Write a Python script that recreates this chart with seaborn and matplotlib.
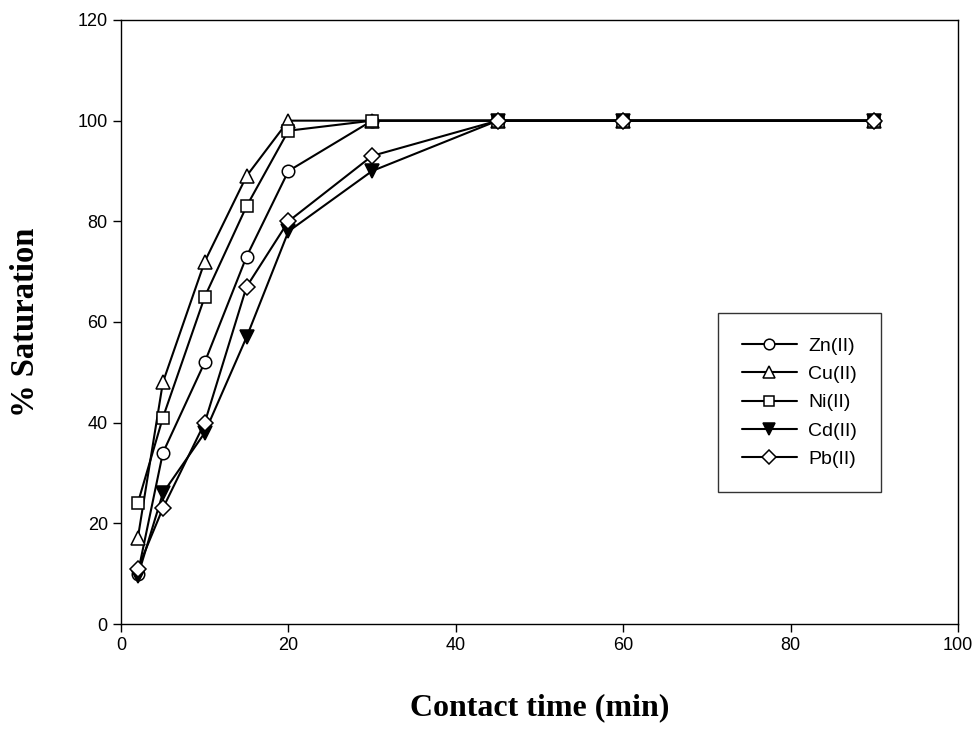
import pandas as pd
import matplotlib.pyplot as plt
import seaborn as sns

# Data
time = [2, 5, 10, 15, 20, 30, 45, 60, 90]
zn = [10, 34, 52, 73, 90, 100, 100, 100, 100]
cu = [17, 48, 72, 89, 100, 100, 100, 100, 100]
ni = [24, 41, 65, 83, 98, 100, 100, 100, 100]
cd = [9.5, 26, 38, 57, 78, 90, 100, 100, 100]
pb = [11, 23, 40, 67, 80, 93, 100, 100, 100]

metals = ["Zn(II)", "Cu(II)", "Ni(II)", "Cd(II)", "Pb(II)"]
series = [zn, cu, ni, cd, pb]
markers = ["o", "^", "s", "v", "D"]
faces = ["white", "white", "white", "black", "white"]
sizes = [9, 10, 9, 10, 8]

rows = []
for m, vals in zip(metals, series):
    for t, v in zip(time, vals):
        rows.append({"time": t, "sat": v, "metal": m})
df = pd.DataFrame(rows)

sns.set_style("ticks")
plt.rcParams["font.family"] = ["Liberation Sans", "DejaVu Sans"]
plt.rcParams["text.color"] = "black"
plt.rcParams["axes.labelcolor"] = "black"

fig = plt.figure(figsize=(9.8, 7.29), dpi=100)
ax = fig.add_axes([0.1235, 0.144, 0.8541, 0.8286])

for m, mk, fc, ms in zip(metals, markers, faces, sizes):
    sns.lineplot(data=df[df["metal"] == m], x="time", y="sat", ax=ax,
                 color="black", linewidth=1.5, marker=mk, markersize=ms,
                 markerfacecolor=fc, markeredgecolor="black", markeredgewidth=1.1,
                 label=m)

ax.set_xlim(0, 100)
ax.set_ylim(0, 120)
ax.set_xticks(range(0, 101, 20))
ax.set_yticks(range(0, 121, 20))
ax.tick_params(direction="out", length=6, width=1, labelsize=13, colors="black")
for s in ax.spines.values():
    s.set_linewidth(1)
    s.set_color("black")

ax.set_xlabel("Contact time (min)", fontsize=23, fontweight="bold",
              family="Liberation Serif", labelpad=28)
ax.set_ylabel("% Saturation", fontsize=23.5, fontweight="bold",
              family="Liberation Serif", labelpad=26)

leg = ax.legend(loc="upper left", bbox_to_anchor=(0.713, 0.515), fontsize=14,
                frameon=True, fancybox=False, edgecolor="black",
                handlelength=2.8, handletextpad=0.6, borderpad=1.25,
                labelspacing=0.55, markerscale=0.85, borderaxespad=0)
leg.get_frame().set_linewidth(1)

plt.savefig("out.png", dpi=100)
plt.close()
